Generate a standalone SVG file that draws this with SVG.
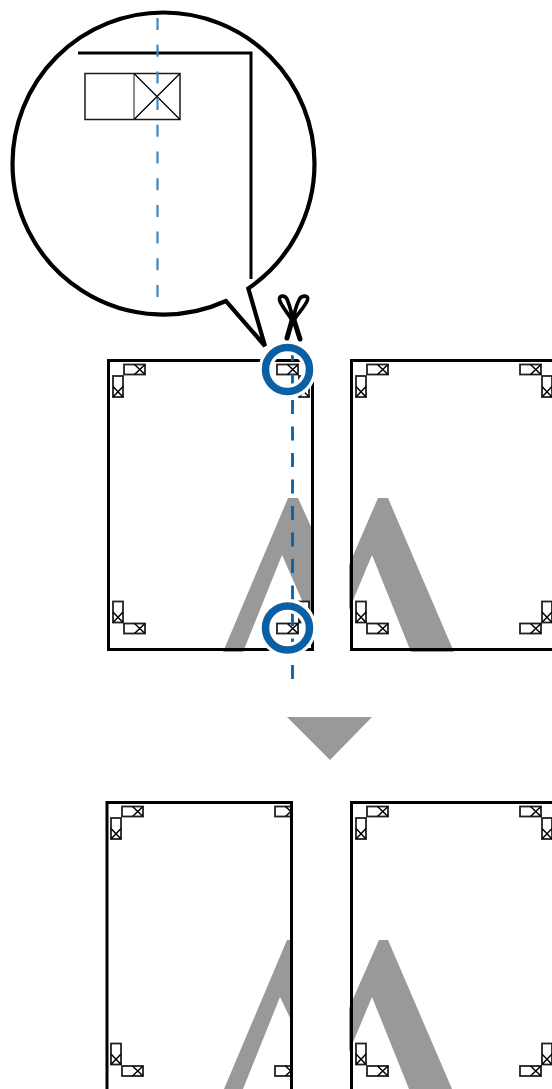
<svg xmlns="http://www.w3.org/2000/svg" width="552" height="1089" viewBox="0 0 552 1089">
<style>
.page{fill:none;stroke:#000;stroke-width:3;stroke-linejoin:miter}
.gray{fill:#999}
.mk{fill:#fff;stroke:#222;stroke-width:1.8}
.x{fill:none;stroke:#000;stroke-width:1.5}
.ring{fill:none;stroke:#fff;stroke-width:14}
.ring2{fill:none;stroke:#0a5fa5;stroke-width:7.5}
</style>
<defs>
<g id="h"><rect class="mk" x="0" y="0" width="21" height="10"/><path class="x" d="M10.500 0L21 10M21 0L10.500 10"/></g>
<g id="v"><rect class="mk" x="0" y="0" width="10" height="21"/><path class="x" d="M0 10.500L10 21M10 10.500L0 21"/></g>
<clipPath id="c3"><rect x="0" y="790" width="291" height="299"/></clipPath>
</defs>
<rect width="552" height="1089" fill="#fff"/>
<g id="page-1">
<path class="gray" d="M288 498H298L313 531V625L308 614L282 555L243 652H223Z"/>
<rect class="page" x="108.500" y="360.500" width="204" height="289"/>
<use href="#h" x="124" y="364.500"/><use href="#v" x="113" y="376"/>
<use href="#h" x="277" y="364.500"/><use href="#v" x="299" y="376"/>
<use href="#v" x="113" y="601.500"/><use href="#h" x="124" y="623.500"/>
<use href="#v" x="299" y="601.500"/><use href="#h" x="277" y="623.500"/>
</g>
<g id="page-2">
<path class="gray" d="M378 498H388L454 652H411L372 555L349 610V565Z"/>
<path class="page" d="M552 360.500H351.500V649.500H552"/>
<use href="#h" x="367" y="364.500"/><use href="#v" x="356" y="376"/>
<use href="#h" x="520" y="364.500"/><use href="#v" x="542" y="376"/>
<use href="#v" x="356" y="601.500"/><use href="#h" x="367" y="623.500"/>
<use href="#v" x="542" y="601.500"/><use href="#h" x="520" y="623.500"/>
</g>
<g id="arrow"><path class="gray" d="M287 717H372L330 760Z"/></g>
<g id="page-3">
<path class="gray" d="M287 940H291V1020L280 997L243 1089H224Z"/>
<use href="#h" x="122" y="806.500"/><use href="#v" x="111" y="818"/>
<g clip-path="url(#c3)"><use href="#h" x="275" y="806.500"/><use href="#h" x="275" y="1066"/></g>
<use href="#v" x="111" y="1043.500"/><use href="#h" x="122" y="1066"/>
<path class="page" d="M107 1089V802.500H291.500V1089"/>
</g>
<g id="page-4">
<path class="gray" d="M379 940H388L452 1089H409L372 997L349 1052V1008Z"/>
<path class="page" d="M552 802.500H351.500V1089"/>
<use href="#h" x="367" y="806.500"/><use href="#v" x="356" y="818"/>
<use href="#h" x="520" y="806.500"/><use href="#v" x="542" y="818"/>
<use href="#v" x="356" y="1043.500"/><use href="#h" x="367" y="1066"/>
<use href="#v" x="542" y="1043.500"/><use href="#h" x="520" y="1066"/>
</g>
<g id="connectors">
<path d="M292.500 347V682" fill="none" stroke="#0a5fa5" stroke-width="2.800" stroke-dasharray="14 12.500"/>
</g>
<g id="ring-top"><circle class="ring" cx="287.500" cy="369.500" r="22"/><circle class="ring2" cx="287.500" cy="369.500" r="22"/></g>
<g id="ring-bottom"><circle class="ring" cx="287.500" cy="628" r="22"/><circle class="ring2" cx="287.500" cy="628" r="22"/></g>
<g id="scissors" fill="none" stroke="#000" stroke-linecap="round">
<path d="M287 338L293 317" stroke-width="5"/>
<path d="M300 339L293 317" stroke-width="5"/>
<path d="M293 322C289 314 281 306 279.500 300C278.500 295 285 295 287 299C289 304 292 312 293 322Z" stroke-width="3.600"/>
<path d="M293 322C297 314 305 307 307.500 300C309 295 302 295 299.500 299C297 304 294 312 293 322Z" stroke-width="3.600"/>
</g>
<g id="callout">
<path d="M248.300 288.400A151 151 0 0 0 314.500 163.500A151 151 0 0 0 163.500 12.500A151 151 0 0 0 12.500 163.500A151 151 0 0 0 226 301L265 346Z" fill="#fff" stroke="#000" stroke-width="4.200" stroke-linejoin="miter"/>
<path d="M78 53H251V279" fill="none" stroke="#000" stroke-width="3"/>
<rect x="85" y="73.500" width="95" height="46" fill="none" stroke="#1a1a1a" stroke-width="1.500"/>
<path d="M134 73.500V119.500" fill="none" stroke="#666" stroke-width="1.500"/>
<path d="M134 73.500L180 119.500M180 73.500L134 119.500" fill="none" stroke="#000" stroke-width="1.300"/>
<path d="M157.500 18V298" fill="none" stroke="#3f86bd" stroke-width="2.200" stroke-dasharray="12 14.700"/>
</g>
</svg>
